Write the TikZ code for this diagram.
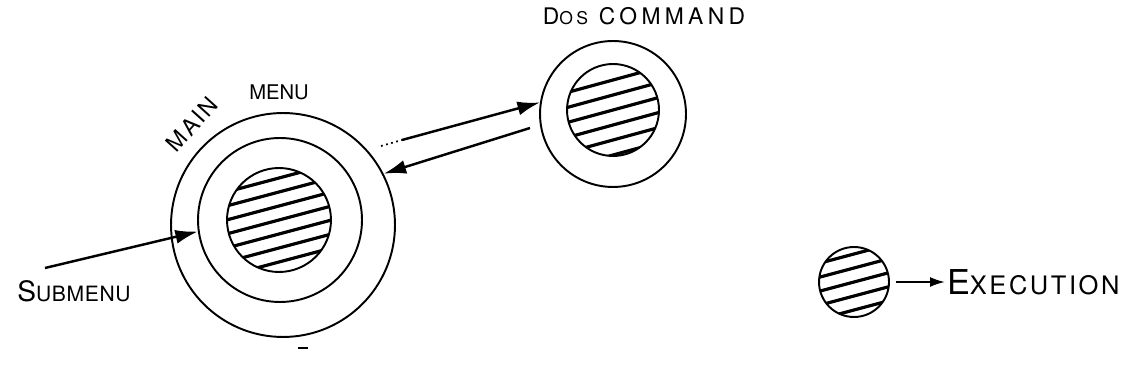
\documentclass[tikz,border=0pt]{standalone}
\usepackage{fontspec}
\setmainfont{TeX Gyre Heros}
\usetikzlibrary{calc,arrows.meta,positioning}
\tikzset{
    ring/.style={circle, draw, line width=1.1pt, inner sep=0pt},
    hatch/.style={line width=1.8pt, line cap=round},
    edge/.style={draw, line width=1.4pt, -{Latex[length=4.5mm, width=2.8mm]}},
    smalledge/.style={draw, line width=1.1pt, -{Latex[length=3mm, width=2mm]}},
    lbl/.style={inner sep=1pt}
}
\newcommand\fsz[1]{\fontsize{#1}{#1}\selectfont}

\begin{document}
\begin{tikzpicture}[x=0.02cm, y=-0.02cm]
    \useasboundingbox (0,0) rectangle (1121,374);

    % Main menu rings
    \node[ring, minimum size=44.8mm] (mainouter) at (283,225) {};
    \node[ring, minimum size=32.8mm] (mainmid) at (280,220) {};
    \node[ring, minimum size=20.8mm] (maininner) at (279,220) {};

    % Dos command rings
    \node[ring, minimum size=29.2mm] (dosouter) at (613,114) {};
    \node[ring, minimum size=18.4mm] (dosinner) at (613,110) {};

    % Execution
    \node[ring, minimum size=14mm] (exec) at (854,282) {};

    % hatching
    \begin{scope}[shift={(maininner.center)}]
        \clip (0,0) circle (52);
        \foreach \k in {-3,...,3}
            \draw[hatch] (-60,\k*14+16) -- ++(120,-32);
    \end{scope}
    \begin{scope}[shift={(dosinner.center)}]
        \clip (0,0) circle (46);
        \foreach \k in {-2,...,3}
            \draw[hatch] (-55,\k*15+15) -- ++(110,-30);
    \end{scope}
    \begin{scope}[shift={(exec.center)}]
        \clip (0,0) circle (35);
        \foreach \k in {-2,...,2}
            \draw[hatch] (-45,\k*14+12) -- ++(90,-24);
    \end{scope}

    % Labels
    \node[lbl, font=\fsz{13}\addfontfeature{LetterSpace=19}] (doslbl) at (644,16) {D{\fsz{10}OS} COMMAND};
    \node[lbl, font=\fsz{11.5}] (menulbl) at (279,92) {MENU};
    \node[lbl, font=\fsz{13}\addfontfeature{LetterSpace=10}, rotate=48] (mainlbl) at (192,124) {MAIN};
    \node[lbl, font=\fsz{16}\addfontfeature{LetterSpace=3}] (sublbl) at (74,291) {S{\fsz{12}UBMENU}};
    \node[lbl, font=\fsz{19.5}\addfontfeature{LetterSpace=10}, anchor=west] (execlbl) at (945,282) {E{\fsz{14.5}XECUTION}};

    % free ends
    \coordinate (subtail) at (45,268);
    \coordinate (gotail) at (402,140);
    \coordinate (backtail) at (530,128);

    % edges
    \draw[edge] (subtail) -- (mainmid.188);
    \draw[edge] (gotail) -- (dosouter.171);
    \draw[edge] (backtail) -- (mainouter.27);
    \draw[smalledge, shorten <=1.2mm] (exec) -- (execlbl);

    % stray marks
    \draw[dotted, line width=1pt] (381,146) -- (gotail);
    \draw[line width=1.2pt] (298,348) -- (308,348);
\end{tikzpicture}
\end{document}
